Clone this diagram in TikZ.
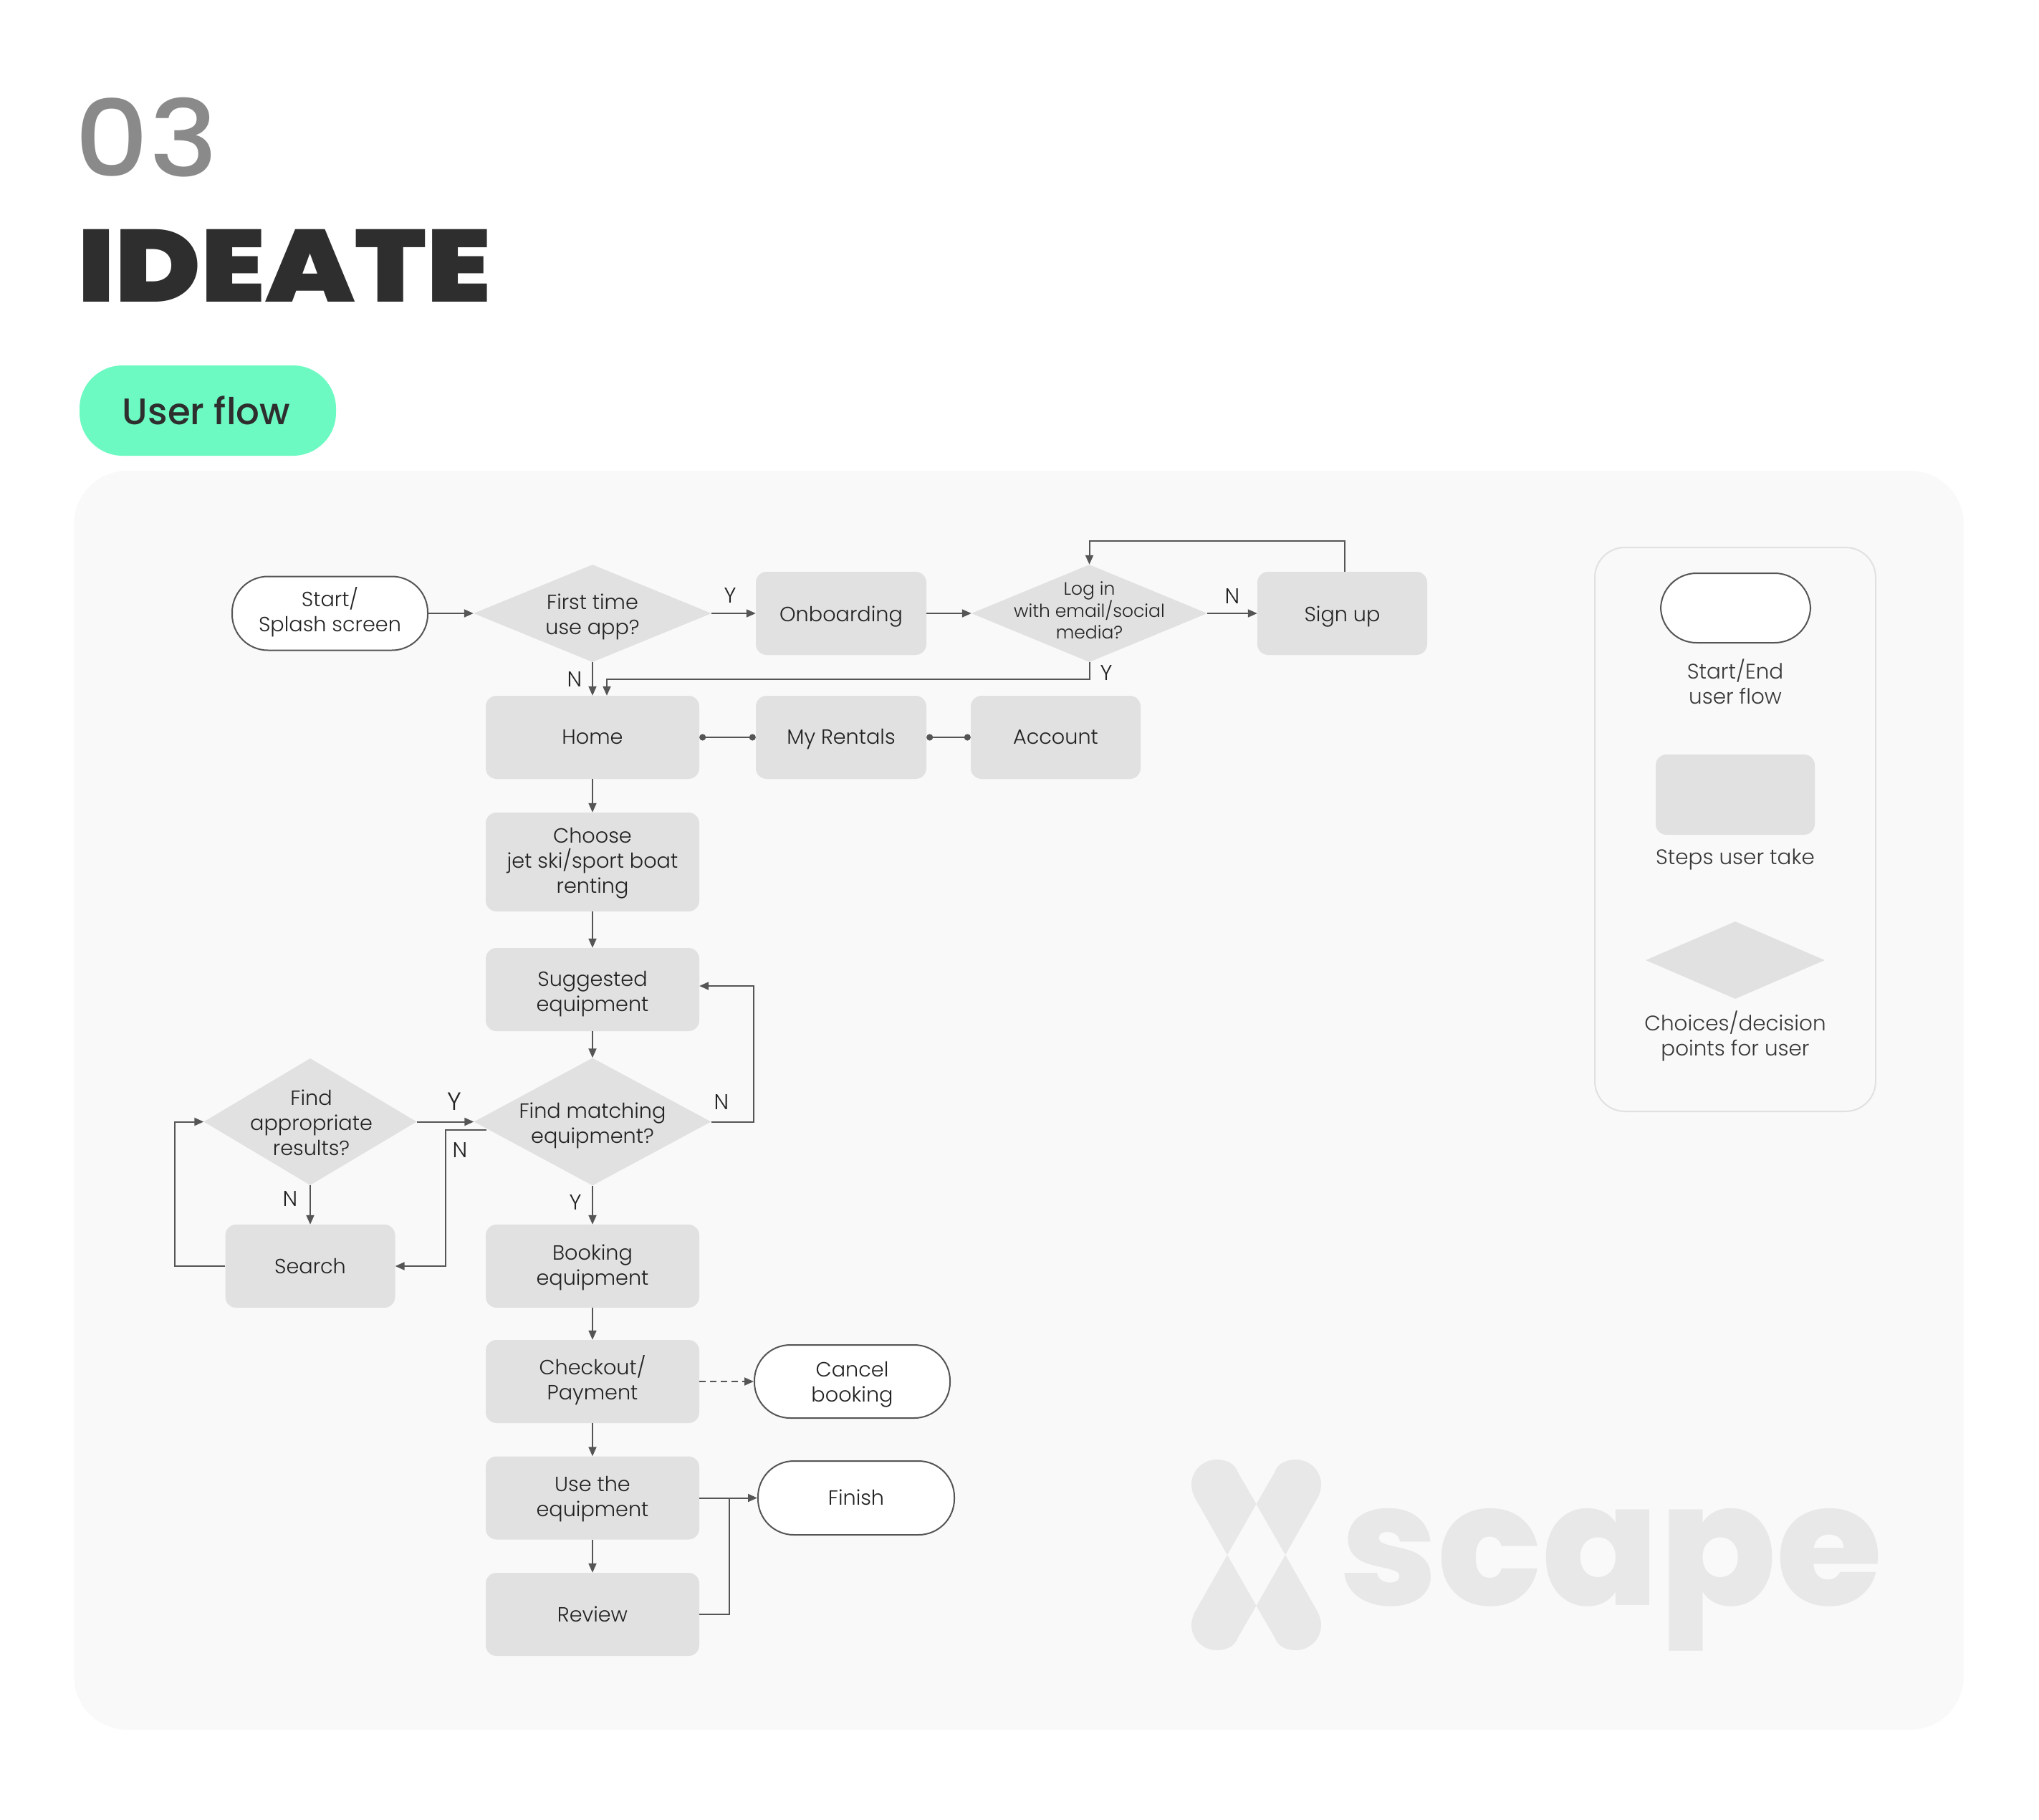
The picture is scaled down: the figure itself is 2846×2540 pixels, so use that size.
\documentclass[tikz,border=0pt]{standalone}
\usepackage{fontspec}
\usetikzlibrary{arrows.meta,shapes.geometric,calc}
\newfontfamily\bodyf{Poppins Light}
\newfontfamily\medf{Poppins Medium}
\newfontfamily\heavyf{Poppins ExtraBold}
\newfontfamily\blackf{Poppins Black}
\definecolor{boxc}{HTML}{E1E1E1}
\definecolor{panelc}{HTML}{F9F9F9}
\definecolor{linec}{HTML}{555555}
\definecolor{inkc}{HTML}{222222}
\definecolor{logoc}{HTML}{E8E8E8}
\definecolor{mintc}{HTML}{6CFAC2}
\tikzset{
  x=1pt,y=-1pt,
  pad/.style={execute at begin node={\rule{0pt}{#1}}},
  txt/.style={font=\bodyf\fontsize{28.7}{35}\selectfont,text=inkc,align=center,inner sep=0pt,execute at begin node=\strut,execute at end node=\strut},
  stepbox/.style={txt,shape=rectangle,fill=boxc,rounded corners=15pt,minimum height=116pt},
  pill/.style={txt,shape=rectangle,fill=white,draw=linec,line width=2pt,rounded corners=50pt},
  choice/.style={shape=diamond,fill=boxc,inner sep=0pt},
  flow/.style={draw=linec,line width=2pt,-{Triangle[length=13pt,width=11pt]}},
  plain/.style={draw=linec,line width=2pt},
  dots/.style={draw=linec,line width=2pt,{Circle[length=9pt]}-{Circle[length=9pt]}},
  yn/.style={font=\bodyf\fontsize{30}{30}\selectfont,text=inkc,inner sep=0pt},
  ynb/.style={font=\bodyf\fontsize{35}{35}\selectfont,text=inkc,inner sep=0pt},
  legtxt/.style={font=\bodyf\fontsize{29.4}{35}\selectfont,text=black!78,align=center,inner sep=0pt,execute at begin node=\strut,execute at end node=\strut},
}
\begin{document}
\begin{tikzpicture}
\useasboundingbox (0,0) rectangle (2846,2540);
\fill[white] (0,0) rectangle (2846,2540);
\fill[panelc,rounded corners=75pt] (103,657) rectangle (2741,2414);
% titles
\node[inner sep=0pt,text=black!46,font=\medf\fontsize{148}{148}\selectfont] (num) at (204.5,191.5) {\scalebox{1.09}[1]{03}};
\node[inner sep=0pt,text=black!82,font=\blackf\fontsize{143}{143}\selectfont] (title) at (397,371) {\scalebox{1.133}[1]{IDEATE}};
\node[shape=rectangle,fill=mintc,rounded corners=60pt,minimum width=358pt,minimum height=126pt,inner sep=0pt,text=black!82,font=\medf\fontsize{51.5}{51.5}\selectfont] (tag) at (290,573) {\hspace*{-4pt}User flow};
% logo
\foreach \sx/\sy in {1/1,-1/1,1/-1,-1/-1}{
\begin{scope}[shift={(1753.5,2170)},xscale=\sx,yscale=\sy]
\fill[logoc] (-40.5,0) -- (-87,-82) .. controls (-89,-88) and (-90.5,-92) .. (-90.5,-98) .. controls (-90.5,-118) and (-74,-133) .. (-55.5,-133) .. controls (-42,-133) and (-30,-128) .. (-25.5,-115) -- (0,-71) -- cycle;
\end{scope}}
\node[inner sep=0pt,anchor=base west,text=logoc,font=\heavyf\fontsize{238}{238}\selectfont] (logo) at (1870,2240) {\scalebox{1.01}[1]{scape}};
% legend
\draw[draw=boxc,line width=2pt,rounded corners=42pt] (2226,764) rectangle (2618,1551);
\node[pill,minimum width=209pt,minimum height=97pt] (legpill) at (2422.5,848.5) {};
\node[legtxt,pad=67.5pt] (legpilltxt) at (2422,953.5) {Start/End\\user flow};
\node[stepbox,minimum width=222pt,minimum height=112pt] (legbox) at (2422,1109) {};
\node[legtxt,pad=30pt] (legboxtxt) at (2422,1197) {Steps user take};
\node[choice,minimum width=250pt,minimum height=108pt,shape aspect=2.315] (legdia) at (2422,1340) {};
\node[legtxt,pad=64pt] (legdiatxt) at (2422,1447) {Choices/decision\\points for user};
% flow nodes
\node[pill,pad=62pt,minimum width=273pt,minimum height=103pt] (start) at (460.5,856) {Start/\\Splash screen};
\node[choice,minimum width=332pt,minimum height=136pt,shape aspect=2.44,label={[txt,pad=69pt]center:First time\\use app?}] (first) at (827,856) {};
\node[stepbox,pad=34pt,minimum width=238pt] (onboard) at (1174,856) {Onboarding};
\node[choice,minimum width=329pt,minimum height=136pt,shape aspect=2.42,label={[txt,font=\bodyf\fontsize{25}{30}\selectfont]center:Log in\\with email/social\\media?}] (login) at (1520.5,856) {};
\node[stepbox,pad=34pt,minimum width=237pt] (signup) at (1873.5,856) {Sign up};
\node[stepbox,pad=30pt,minimum width=298pt] (home) at (827,1029) {Home};
\node[stepbox,pad=30pt,minimum width=238pt] (rentals) at (1174,1029) {My Rentals};
\node[stepbox,pad=30pt,minimum width=237pt] (account) at (1473.5,1029) {Account};
\node[stepbox,pad=96.5pt,minimum width=298pt,minimum height=138pt] (choose) at (827,1203) {Choose\\jet ski/sport boat\\renting};
\node[stepbox,pad=70.5pt,minimum width=298pt] (suggested) at (827,1381) {Suggested\\equipment};
\node[choice,minimum width=331pt,minimum height=178pt,shape aspect=1.86,label={[txt,pad=70.5pt]center:Find matching\\equipment?}] (match) at (827,1565.5) {};
\node[choice,minimum width=297pt,minimum height=177pt,shape aspect=1.68,label={[txt,pad=104pt,xshift=1.5pt]center:Find\\appropriate\\results?}] (find) at (433,1565.5) {};
\node[stepbox,pad=31pt,minimum width=237pt] (search) at (433,1767) {Search};
\node[stepbox,pad=63pt,minimum width=298pt] (booking) at (827,1767) {Booking\\equipment};
\node[stepbox,minimum width=298pt] (checkout) at (827,1928) {Checkout/\\Payment};
\node[pill,pad=67pt,minimum width=273pt,minimum height=102pt] (cancel) at (1189.5,1928) {Cancel\\booking};
\node[stepbox,pad=63pt,minimum width=298pt] (use) at (827,2090.5) {Use the\\equipment};
\node[pill,pad=30pt,minimum width=274pt,minimum height=103pt] (finish) at (1195,2090.5) {Finish};
\node[stepbox,pad=32pt,minimum width=298pt] (review) at (827,2253) {Review};
% connector helpers
\coordinate (matchn) at (679,1577);
\coordinate (nbend) at (622,1577);
\coordinate (rbend) at (1052,1565.5);
\coordinate (lbend) at (244,1767);
\coordinate (junction) at (1018,2090.5);
% connectors
\draw[flow] (start) -- (first);
\draw[flow] (first) -- (onboard);
\draw[flow] (onboard) -- (login);
\draw[flow] (login) -- (signup);
\draw[flow] (first) -- (home);
\draw[flow] (login.south) -- ++(0,24) -| ([xshift=20pt]home.north);
\draw[flow] ([xshift=3.5pt]signup.north) -- ++(0,-43) -| (login.north);
\draw[dots] (home.east) -- (rentals.west);
\draw[dots] (rentals.east) -- (account.west);
\draw[flow] (home) -- (choose);
\draw[flow] (choose) -- (suggested);
\draw[flow] (suggested) -- (match);
\draw[flow] (match) -- (booking);
\draw[flow] (match.east) -- (rbend) |- ([yshift=5pt]suggested.east);
\draw[flow] (find) -- (match);
\draw[flow] (find) -- (search);
\draw[flow] (matchn) -- (nbend) |- (search.east);
\draw[flow] (search.west) -- (lbend) |- (find.west);
\draw[flow] (booking) -- (checkout);
\draw[flow] (checkout) -- (use);
\draw[flow] (use) -- (review);
\draw[flow,dash pattern=on 9pt off 6pt] (checkout) -- (cancel);
\draw[flow] (use) -- (finish);
\draw[plain] (review.east) -| (junction);
% branch labels
\node[yn] (l1) at (1019,831) {Y};
\node[yn] (l2) at (802,948) {N};
\node[yn] (l3) at (1544,939) {Y};
\node[yn] (l4) at (1720,832) {N};
\node[ynb] (l5) at (634,1537) {Y};
\node[yn] (l6) at (642,1605) {N};
\node[yn] (l7) at (1007,1538) {N};
\node[yn] (l8) at (405,1673) {N};
\node[yn] (l9) at (803,1678) {Y};
\end{tikzpicture}
\end{document}
